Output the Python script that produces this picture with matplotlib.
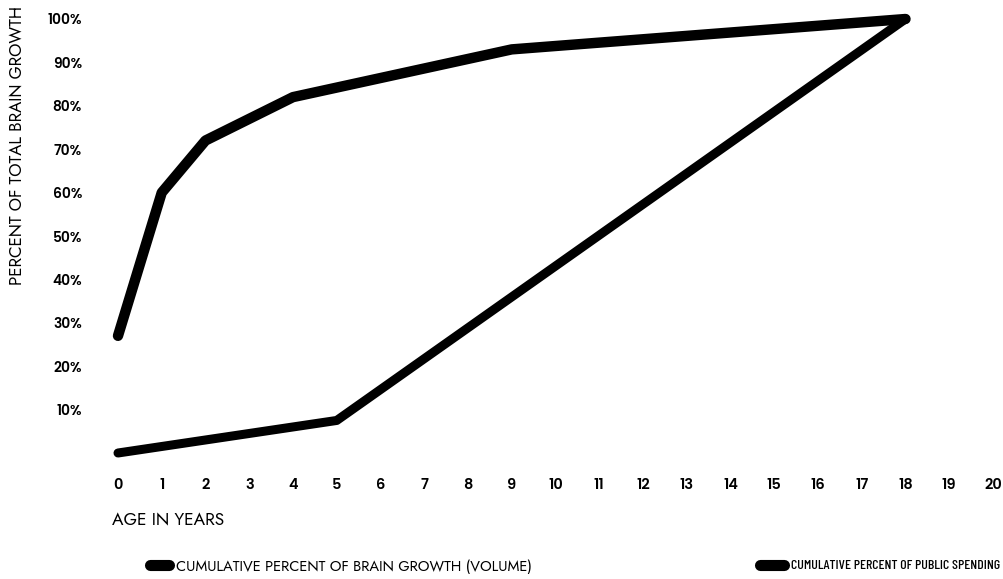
import matplotlib
matplotlib.use("Agg")
import matplotlib.pyplot as plt

# Data
brain_ages = [0, 1, 2, 4, 9, 18]
brain_pct = [27, 60, 72, 82, 93, 100]
spend_ages = [0, 5, 18]
spend_pct = [0, 7.5, 100]

x_ticks = list(range(0, 21))
y_ticks = [10, 20, 30, 40, 50, 60, 70, 80, 90, 100]
y_tick_labels = [f"{v}%" for v in y_ticks]

series_labels = ["CUMULATIVE PERCENT OF BRAIN GROWTH (VOLUME)",
                 "CUMULATIVE PERCENT OF PUBLIC SPENDING"]

plt.rcParams['font.family'] = ['Jost', 'DejaVu Sans']
TICK_FONT = ['Poppins', 'DejaVu Sans']
COND_FONT = ['Barlow Condensed', 'DejaVu Sans']

W, H = 1004, 579
PX = 72 / 100  # points per pixel
fig = plt.figure(figsize=(W / 100, H / 100), dpi=100)
fig.patch.set_facecolor("white")

left_px, right_px = 118, 993
bottom_px, top_px = 453, 19
ax = fig.add_axes([left_px / W, (H - bottom_px) / H,
                   (right_px - left_px) / W, (bottom_px - top_px) / H])
ax.set_xlim(0, 20)
ax.set_ylim(0, 100)
for s in ax.spines.values():
    s.set_visible(False)

l1, = ax.plot(brain_ages, brain_pct, color="black", lw=7.5,
              solid_capstyle="round", solid_joinstyle="round", clip_on=False,
              label=series_labels[0])
l2, = ax.plot(spend_ages, spend_pct, color="black", lw=6.5,
              solid_capstyle="round", solid_joinstyle="round", clip_on=False,
              label=series_labels[1])

ax.set_xticks(x_ticks)
ax.set_xticklabels([str(v) for v in x_ticks], fontsize=10.5,
                   fontweight="semibold", family=TICK_FONT)
ax.set_yticks(y_ticks)
ax.set_yticklabels(y_tick_labels, fontsize=10, fontweight="semibold",
                   family=TICK_FONT)
ax.tick_params(axis="x", length=0, pad=18)
ax.tick_params(axis="y", length=0, pad=26)

fig.text(18 / W, 1 - 145 / H, "PERCENT OF TOTAL BRAIN GROWTH", rotation=90,
         ha="center", va="center", fontsize=12.2)
fig.text(112 / W, 1 - 521 / H, "AGE IN YEARS", ha="left", va="center",
         fontsize=12.5)

fs1 = 10.6
leg1 = ax.legend(handles=[l1], loc="center left",
                 bbox_to_anchor=(150 / W, 1 - 566 / H),
                 bbox_transform=fig.transFigure, frameon=False,
                 prop={'family': plt.rcParams['font.family'], 'size': fs1},
                 handlelength=19 * PX / fs1, handletextpad=7 * PX / fs1,
                 borderpad=0, borderaxespad=0)
ax.add_artist(leg1)
fs2 = 10.0
leg2 = ax.legend(handles=[l2], loc="center left",
                 bbox_to_anchor=(760 / W, 1 - 566 / H),
                 bbox_transform=fig.transFigure, frameon=False,
                 prop={'family': COND_FONT, 'size': fs2, 'weight': 'medium'},
                 handlelength=24 * PX / fs2, handletextpad=7 * PX / fs2,
                 borderpad=0, borderaxespad=0)
for lg in (leg1, leg2):
    for h in lg.legend_handles:
        h.set_linewidth(8)
        h.set_solid_capstyle("round")

fig.savefig("out.png", dpi=100, facecolor="white")
